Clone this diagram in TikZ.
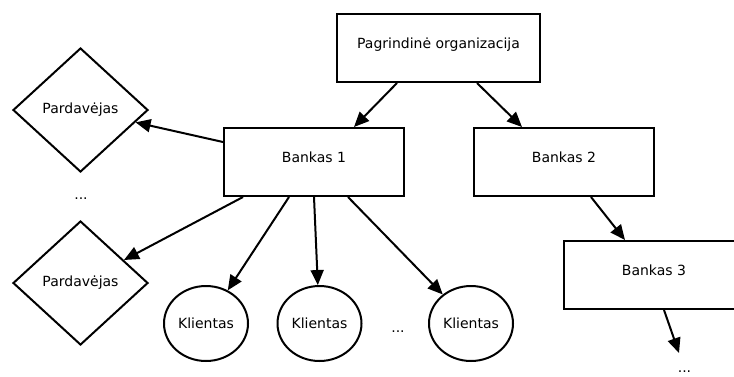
\documentclass[tikz,border=0pt]{standalone}
\usepackage{fontspec}
\setmainfont{DejaVu Sans}
\usetikzlibrary{arrows.meta,shapes.geometric}
\begin{document}
\begin{tikzpicture}[x=1pt,y=-1pt,
  every node/.style={font=\fontsize{14}{16}\selectfont},
  boxnode/.style={draw,line width=2pt,inner sep=0pt,text height=34pt,text depth=34pt,minimum width=180pt},
  seller/.style={draw,line width=2pt,diamond,inner sep=0pt,minimum width=135pt,minimum height=124pt},
  client/.style={draw,line width=2pt,ellipse,inner sep=0pt,minimum width=84pt,minimum height=75pt},
  dots/.style={anchor=base,inner sep=0pt},
  conn/.style={line width=2pt,-{Triangle[length=15pt,width=13pt]}}]
\clip (0,0) rectangle (734,376);
\node[boxnode,minimum width=203pt] (pg) at (438.5,48) {Pagrindinė organizacija};
\node[boxnode] (b1) at (314,162) {Bankas 1};
\node[boxnode] (b2) at (564,162) {Bankas 2};
\node[boxnode] (b3) at (654,275) {Bankas 3};
\node[seller] (p1) at (80.5,110) {Pardavėjas};
\node[seller] (p2) at (80.5,283) {Pardavėjas};
\node[client] (k1) at (206,323.5) {Klientas};
\node[client] (k2) at (319.5,323.5) {Klientas};
\node[client] (k3) at (471,323.5) {Klientas};
\node[dots] (d1) at (81,199) {...};
\node[dots] (d2) at (398,332) {...};
\node[dots] (d3) at (684.5,372) {...};
\coordinate (e3) at (679,353);
\draw[conn] ([xshift=61pt]pg.south west) -- ([xshift=131pt]b1.north west);
\draw[conn] ([xshift=141pt]pg.south west) -- ([xshift=49pt]b2.north west);
\draw[conn] ([xshift=118pt]b2.south west) -- ([xshift=62pt]b3.north west);
\draw[conn] ([xshift=101pt]b3.south west) -- (e3);
\draw[conn] ([yshift=20pt]b1.west) -- (p1);
\draw[conn] ([xshift=20pt]b1.south west) -- (p2);
\draw[conn] ([xshift=66pt]b1.south west) -- (k1);
\draw[conn] ([xshift=91pt]b1.south west) -- (k2);
\draw[conn] ([xshift=125pt]b1.south west) -- (k3);
\end{tikzpicture}
\end{document}
